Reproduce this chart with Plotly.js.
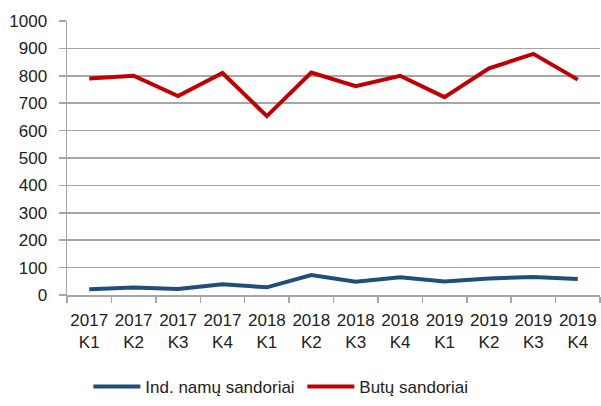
<!DOCTYPE html>
<html>
<head>
<meta charset="utf-8">
<script src="https://cdn.plot.ly/plotly-3.0.1.min.js"></script>
<style>html,body{margin:0;padding:0;background:#fff;}#chart{width:601px;height:406px;}</style>
</head>
<body>
<div id="chart"></div>
<script>
const categories = ["2017<br>K1","2017<br>K2","2017<br>K3","2017<br>K4","2018<br>K1","2018<br>K2","2018<br>K3","2018<br>K4","2019<br>K1","2019<br>K2","2019<br>K3","2019<br>K4"];
const indNamu = [21, 27, 22, 39, 28, 73, 48, 65, 49, 60, 66, 58];
const butu = [790, 800, 726, 810, 653, 812, 762, 800, 722, 827, 880, 786];
const seriesNames = ["Ind. namų sandoriai", "Butų sandoriai"];

const FONT = "'Liberation Sans', Arial, sans-serif";

const traces = [
  {x: categories, y: indNamu, name: seriesNames[0], type: "scatter", mode: "lines",
   line: {color: "#1F4E79", width: 4}},
  {x: categories, y: butu, name: seriesNames[1], type: "scatter", mode: "lines",
   line: {color: "#C00000", width: 4}}
];

const layout = {
  width: 601, height: 406,
  margin: {l: 67, r: 1, t: 21, b: 109},
  paper_bgcolor: "#fff", plot_bgcolor: "#fff",
  font: {family: FONT, size: 17, color: "#222"},
  showlegend: true,
  legend: {orientation: "h", x: 0.04, xanchor: "left", y: -0.27, yanchor: "top",
           font: {family: FONT, size: 17, color: "#222"}, itemwidth: 47, entrywidth: 152,
           traceorder: "normal"},
  xaxis: {type: "category", range: [-0.5, categories.length - 0.5], showgrid: false, showline: true,
          linecolor: "#a6a6a6", linewidth: 1.5,
          ticks: "outside", tickson: "boundaries", ticklen: 6, tickcolor: "#a6a6a6", tickwidth: 1.5,
          ticklabelstandoff: 9,
          tickangle: 0, tickfont: {family: FONT, size: 17, color: "#222"}, fixedrange: true},
  yaxis: {range: [0, 1000], dtick: 100, showgrid: true, gridcolor: "#a6a6a6", gridwidth: 1.5,
          showline: true, linecolor: "#a6a6a6", linewidth: 1.5, zeroline: false,
          ticks: "outside", ticklen: 7, tickcolor: "#a6a6a6", tickwidth: 1.5,
          ticklabelstandoff: 8,
          tickfont: {family: FONT, size: 17, color: "#222"}, fixedrange: true}
};

Plotly.newPlot("chart", traces, layout, {displayModeBar: false, staticPlot: true});
</script>
</body>
</html>
